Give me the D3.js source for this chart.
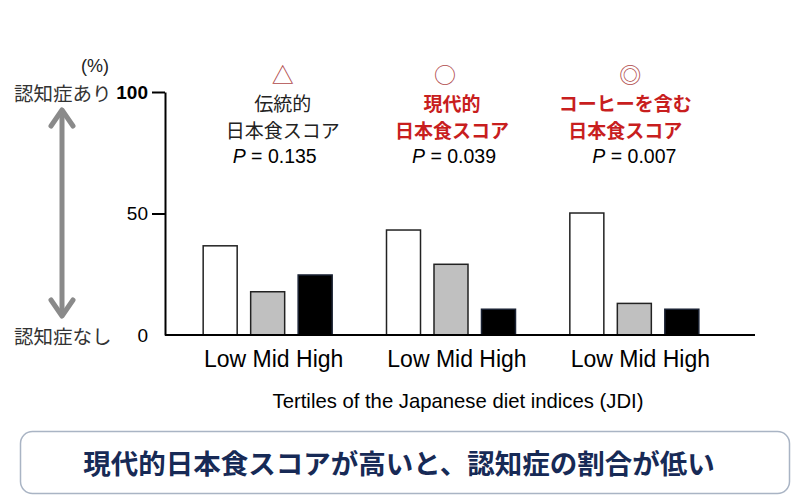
<!DOCTYPE html>
<html>
<head>
<meta charset="utf-8">
<script src="https://cdn.jsdelivr.net/npm/d3@7"></script>
<style>
  html, body { margin: 0; padding: 0; background: #fff; }
  svg { display: block; }
</style>
</head>
<body>
<script>
// ---------- data ----------
const groups = ["traditional", "modern", "modernCoffee"];
const tertiles = ["Low", "Mid", "High"];
const lowValues  = [36.7, 43.2, 50.2];
const midValues  = [17.8, 29.1, 13.0];
const highValues = [24.7, 10.6, 10.6];
const yTicks = [0, 50, 100];
const tickLabel = "Low Mid High";
const symbols = ["△", "○", "◎"];
const titleLine1 = ["伝統的", "現代的", "コーヒーを含む"];
const titleLine2 = ["日本食スコア", "日本食スコア", "日本食スコア"];
const pValues = ["0.135", "0.039", "0.007"];
const highlighted = [false, true, true];
const xTitle = "Tertiles of the Japanese diet indices (JDI)";
const yUnit = "(%)";
const yTopLabel = "認知症あり";
const yBottomLabel = "認知症なし";
const conclusion = "現代的日本食スコアが高いと、認知症の割合が低い";

// ---------- layout ----------
const W = 800, H = 495;
const fills = { Low: "#ffffff", Mid: "#c0c0c0", High: "#000000" };
const symbolOffset = [15, -6, -4];
const titleOffset = [15, 1, -9];
const pOffset = [7, 3, 0];
const jp = "'Noto Sans CJK JP', 'Noto Sans', sans-serif";
const latin = "Arial, 'Liberation Sans', Helvetica, sans-serif";

const svg = d3.select("body").append("svg").attr("width", W).attr("height", H);

const y = d3.scaleLinear().domain([0, 100]).range([335, 92]);
const x0 = d3.scaleBand().domain(groups).range([176, 726]);
const x1 = d3.scaleBand().domain(tertiles).range([-64.5, 64.5]).paddingInner(0.284).paddingOuter(0);

const rows = groups.map((g, i) => ({
  group: g,
  bars: [
    { t: "Low", v: lowValues[i] },
    { t: "Mid", v: midValues[i] },
    { t: "High", v: highValues[i] }
  ]
}));

// bars
const gGroups = svg.selectAll("g.grp").data(rows).join("g")
  .attr("class", "grp")
  .attr("transform", d => `translate(${x0(d.group) + x0.bandwidth() / 2},0)`);

gGroups.selectAll("rect").data(d => d.bars).join("rect")
  .attr("x", d => x1(d.t))
  .attr("width", x1.bandwidth())
  .attr("y", d => y(d.v))
  .attr("height", d => y(0) - y(d.v))
  .attr("fill", d => fills[d.t])
  .attr("stroke", d => d.t === "High" ? "#1a2233" : "#222")
  .attr("stroke-width", 1.5);

// y axis
const yAxis = svg.append("g")
  .attr("transform", "translate(165,0)")
  .call(d3.axisLeft(y).tickValues(yTicks).tickSize(13).tickSizeOuter(0).tickPadding(4));
yAxis.select(".domain").attr("stroke", "#000").attr("stroke-width", 2);
yAxis.selectAll(".tick line").attr("stroke", "#000").attr("stroke-width", 2)
  .attr("opacity", d => d === 0 ? 0 : 1);
yAxis.selectAll(".tick text")
  .attr("font-family", latin)
  .attr("font-size", 19)
  .attr("font-weight", d => d === 100 ? "bold" : "normal")
  .attr("fill", "#000");

// x baseline
svg.append("line")
  .attr("x1", 165).attr("x2", 755)
  .attr("y1", y(0)).attr("y2", y(0))
  .attr("stroke", "#000").attr("stroke-width", 2);

// x axis tick labels (one per group)
const xAxis = svg.append("g")
  .attr("transform", `translate(6,${y(0)})`)
  .call(d3.axisBottom(x0).tickSize(0).tickPadding(16).tickFormat(() => tickLabel));
xAxis.select(".domain").remove();
xAxis.selectAll(".tick text")
  .attr("font-family", latin)
  .attr("font-size", 23)
  .attr("fill", "#000");

// x axis title
svg.append("text")
  .attr("x", 458).attr("y", 408)
  .attr("text-anchor", "middle")
  .attr("font-family", latin)
  .attr("font-size", 20.3)
  .attr("fill", "#000")
  .text(xTitle);

// header annotations
groups.forEach((g, i) => {
  const cx = x0(g) + x0.bandwidth() / 2;
  const col = highlighted[i] ? "#c81e1e" : "#222";
  const wt = highlighted[i] ? "bold" : "normal";
  svg.append("text")
    .attr("x", cx + symbolOffset[i]).attr("y", 73)
    .attr("text-anchor", "middle").attr("dominant-baseline", "central")
    .attr("font-family", jp).attr("font-size", 22)
    .attr("fill", "#b04a4a")
    .text(symbols[i]);
  const tt = svg.append("text")
    .attr("text-anchor", "middle")
    .attr("font-family", jp).attr("font-size", 19).attr("font-weight", wt)
    .attr("fill", col);
  tt.append("tspan")
    .attr("x", cx + titleOffset[i]).attr("y", 111)
    .text(titleLine1[i]);
  tt.append("tspan")
    .attr("x", cx + titleOffset[i]).attr("y", 138)
    .text(titleLine2[i]);
  const pt = svg.append("text")
    .attr("x", cx + pOffset[i]).attr("y", 163)
    .attr("text-anchor", "middle")
    .attr("font-family", latin).attr("font-size", 19.5)
    .attr("fill", "#000");
  pt.append("tspan").attr("font-style", "italic").text("P");
  pt.append("tspan").text(" = " + pValues[i]);
});

// left side labels
svg.append("text")
  .attr("x", 95).attr("y", 66)
  .attr("text-anchor", "middle").attr("dominant-baseline", "central")
  .attr("font-family", latin).attr("font-size", 18)
  .attr("fill", "#222")
  .text(yUnit);
svg.append("text")
  .attr("x", 14).attr("y", y(100))
  .attr("dominant-baseline", "central")
  .attr("font-family", jp).attr("font-size", 19.5)
  .attr("fill", "#333")
  .text(yTopLabel);
svg.append("text")
  .attr("x", 14).attr("y", y(0))
  .attr("dominant-baseline", "central")
  .attr("font-family", jp).attr("font-size", 19.5)
  .attr("fill", "#333")
  .text(yBottomLabel);

// double arrow
const arrowCol = "#8a8a8a";
svg.append("line")
  .attr("x1", 62).attr("x2", 62).attr("y1", 110).attr("y2", 315)
  .attr("stroke", arrowCol).attr("stroke-width", 5);
svg.append("polyline")
  .attr("points", "51,126 62,110 73,126")
  .attr("fill", "none").attr("stroke", arrowCol).attr("stroke-width", 5)
  .attr("stroke-linecap", "round").attr("stroke-linejoin", "round");
svg.append("polyline")
  .attr("points", "51,300 62,316 73,300")
  .attr("fill", "none").attr("stroke", arrowCol).attr("stroke-width", 5)
  .attr("stroke-linecap", "round").attr("stroke-linejoin", "round");

// conclusion box
svg.append("rect")
  .attr("x", 20.5).attr("y", 431.5).attr("width", 769).attr("height", 62)
  .attr("rx", 12).attr("ry", 12)
  .attr("fill", "#fff").attr("stroke", "#a9b4c4").attr("stroke-width", 1.5);
svg.append("text")
  .attr("x", 399).attr("y", 462)
  .attr("text-anchor", "middle").attr("dominant-baseline", "central")
  .attr("font-family", jp).attr("font-size", 27.5).attr("font-weight", "bold")
  .attr("fill", "#172a56")
  .text(conclusion);
</script>
</body>
</html>
